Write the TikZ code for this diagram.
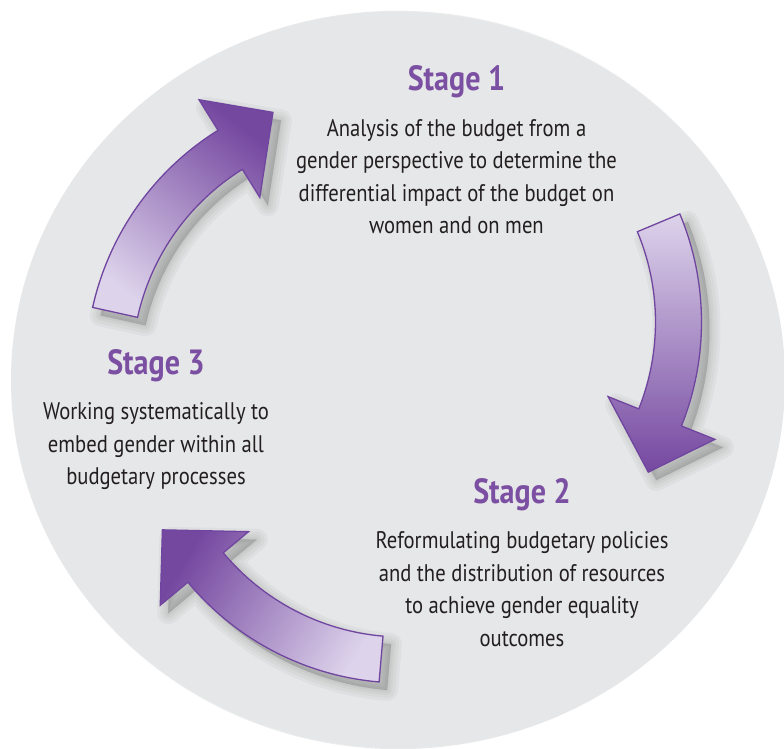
\documentclass[tikz,border=0pt]{standalone}
\usepackage{fontspec}
\setmainfont{PT Sans}[FakeStretch=0.86]
\usetikzlibrary{positioning,fadings}

\definecolor{discface}{HTML}{E6E7E8}
\definecolor{discdark}{HTML}{A3A5A8}
\definecolor{discedge}{HTML}{7F8184}
\definecolor{headpurple}{HTML}{7B4FA2}
\definecolor{arrowdark}{HTML}{7548A0}
\definecolor{arrowlight}{HTML}{DDD3EB}
\definecolor{arrowline}{HTML}{7045A0}
\definecolor{textcol}{HTML}{231F20}

\pgfdeclareradialshading{discrim}{\pgfpoint{0bp}{0bp}}{color(0bp)=(discface); color(45.5bp)=(discface); color(48.8bp)=(discdark); color(50bp)=(discedge)}
\pgfdeclareradialshading{discshine}{\pgfpoint{0bp}{0bp}}{color(0bp)=(discface); color(46bp)=(discface); color(50bp)=(white)}
\tikzfading[name=rimfade, top color=transparent!100, bottom color=transparent!0]

% curved arrow: centre x, centre y (pixels, y down), tail angle, head angle, tip angle
\newcommand\stagearrow[5]{([shift={(#1,-#2)}]#3:280) arc[start angle=#3, end angle=#4, radius=280]
  -- ([shift={(#1,-#2)}]#4:316) -- ([shift={(#1,-#2)}]#5:272)
  -- ([shift={(#1,-#2)}]#4:201) -- ([shift={(#1,-#2)}]#4:234)
  arc[start angle=#4, end angle=#3, radius=234] -- cycle}

\begin{document}
\begin{tikzpicture}[x=1pt, y=1pt,
  stagehead/.style={font=\fontsize{35}{40}\selectfont\bfseries, text=headpurple, inner sep=0pt},
  stagetext/.style={font=\fontsize{24}{32.5}\selectfont, text=textcol, align=center, inner sep=0pt},
  arrowbody/.style={draw=arrowline, line width=1.3pt, line join=miter, top color=arrowdark, bottom color=arrowlight},
  arrowshadow/.style={fill=black, draw=black, fill opacity=.03, draw opacity=.03, line join=round}]

\useasboundingbox (0,0) rectangle (784,-749);
\fill[white] (0,0) rectangle (784,-749);

\fill[discface] (398,-380) ellipse [x radius=387, y radius=368];
\shade[shading=discrim, path fading=rimfade, fading angle=45] (398,-380) ellipse [x radius=387, y radius=368];
\shade[shading=discshine, path fading=rimfade, fading angle=225] (398,-380) ellipse [x radius=387, y radius=368];

\foreach \cx/\cy/\a/\b/\c in {366/368/167.5/121.9/110, 421.5/322/22.7/-21.8/-33.5, 403/403/265.1/219.8/207.8}
  \foreach \w in {22,16,10,5,1}
    \filldraw[arrowshadow, line width=\w, xshift=8, yshift=-8] \stagearrow{\cx}{\cy}{\a}{\b}{\c};

\foreach \cx/\cy/\a/\b/\c/\ang in {366/368/167.5/121.9/110/-38, 421.5/322/22.7/-21.8/-33.5/180, 403/403/265.1/219.8/207.8/59}
  \draw[arrowbody, shading angle=\ang] \stagearrow{\cx}{\cy}{\a}{\b}{\c};

\node[stagehead, anchor=base] (st1) at (456.5,-90.7) {Stage 1};
\node[stagetext, below=143pt of st1.base, anchor=base] (tx1) {Analysis of the budget from a\\gender perspective to determine the\\differential impact of the budget on\\women and on men};

\node[stagehead, anchor=base] (st2) at (522,-503) {Stage 2};
\node[stagetext, below=143pt of st2.base, anchor=base] (tx2) {Reformulating budgetary policies\\and the distribution of resources\\to achieve gender equality\\outcomes};

\node[stagehead, anchor=base] (st3) at (156,-374) {Stage 3};
\node[stagetext, below=110.5pt of st3.base, anchor=base] (tx3) {Working systematically to\\embed gender within all\\budgetary processes};
\end{tikzpicture}
\end{document}
